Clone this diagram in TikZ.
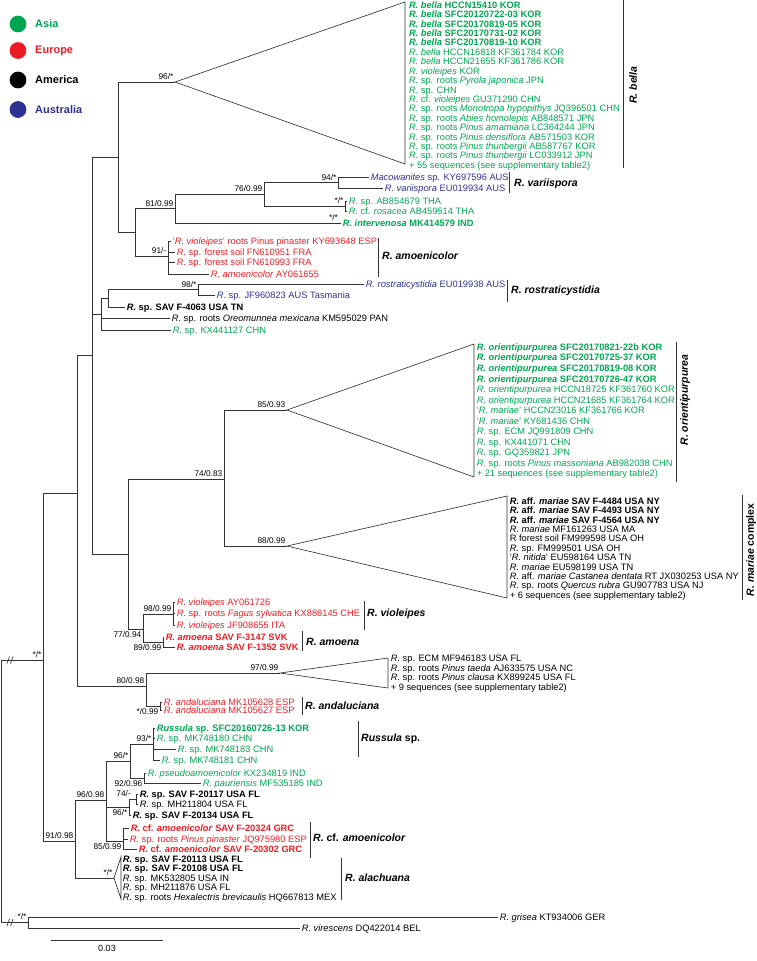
\documentclass[tikz,border=0pt]{standalone}
\usepackage{fontspec}
\setmainfont{Liberation Sans}
\definecolor{asia}{RGB}{0,166,81}
\definecolor{eur}{RGB}{237,28,36}
\definecolor{aus}{RGB}{46,49,146}
\newcommand{\genR}{\textit{R.}}
\begin{document}
\begin{tikzpicture}[x=1pt,y=-1pt,
  br/.style={line width=0.65pt, draw=black!80},
  lf/.style={anchor=west, inner sep=0pt, outer sep=1.8pt, font=\fontsize{9.3}{9.3}\selectfont, text height=6.7pt, text depth=0pt},
  supv/.style={anchor=base east, inner sep=0pt, font=\fontsize{8.3}{8.3}\selectfont},
  clab/.style={inner sep=0pt, font=\fontsize{10.5}{10.5}\selectfont\bfseries, text height=7.6pt, text depth=0pt},
  cbar/.style={line width=0.75pt, draw=black!80},
  leg/.style={anchor=west, inner sep=0pt, font=\fontsize{11}{11}\selectfont\bfseries},
  dot/.style={circle, inner sep=0pt, minimum size=16.8pt},
]
\useasboundingbox (0,0) rectangle (756,961);

% ---------- legend ----------
\foreach \c/\t/\y [count=\i] in {asia/Asia/24, eur/Europe/50.5, black/America/80, aus/Australia/109.5} {
  \node[dot, fill=\c] (dot\i) at (18,\y) {};
  \node[leg, text=\c] (leg\i) at (35,\y) {\t};
}

% ---------- internal nodes ----------
\coordinate (root) at (1,791);
\coordinate (n43) at (43,660);
\coordinate (n77) at (77,493);
\coordinate (n92) at (92,355);
\coordinate (nA) at (118,157);
\coordinate (n135) at (135,232);
\coordinate (n81) at (175,208.5);
\coordinate (n76) at (264,194);
\coordinate (n94) at (338,182.5);
\coordinate (nTHA) at (345,206);
\coordinate (n91) at (168,256);
\coordinate (n101) at (101,314);
\coordinate (n108) at (108,298);
\coordinate (n198) at (198,289.5);
\coordinate (n128) at (128,554);
\coordinate (n224) at (224,479);
\coordinate (n143) at (143,629);
\coordinate (n173) at (173,614);
\coordinate (n163) at (163,642);
\coordinate (n146) at (146,686);
\coordinate (n160) at (160,706);
\coordinate (n75) at (75,841);
\coordinate (n106) at (106,800);
\coordinate (n130) at (130,761);
\coordinate (n153) at (153,744);
\coordinate (n144) at (144,778);
\coordinate (n129) at (129,807);
\coordinate (n136) at (136,799);
\coordinate (n123) at (123,841);
\coordinate (nout) at (28,922.5);

% ---------- collapsed clades ----------
\coordinate (bellaApex) at (175,82);
\coordinate (bellaT) at (405,2);
\coordinate (bellaB) at (405,164);
\coordinate (orApex) at (287,410);
\coordinate (orT) at (474,344);
\coordinate (orB) at (474,477);
\coordinate (maApex) at (287,546);
\coordinate (maT) at (507,496);
\coordinate (maB) at (507,598);
\coordinate (cApex) at (280,673);
\coordinate (cT) at (388,658);
\coordinate (cB) at (388,688);
\coordinate (alApex) at (114,878);
\coordinate (alT) at (121,857);
\coordinate (alB) at (121,899);
\draw[br] (bellaApex) -- (bellaT) -- (bellaB) -- cycle;
\draw[br] (orApex) -- (orT) -- (orB) -- cycle;
\draw[br] (maApex) -- (maT) -- (maB) -- cycle;
\draw[br] (cApex) -- (cT) -- (cB) -- cycle;
\draw[br] (alApex) -- (alT) -- (alB) -- cycle;

\foreach \t [count=\i from 0] in {
 \textbf{\textit{R. bella} HCCN15410 KOR},
 \textbf{\textit{R. bella} SFC20120722-03 KOR},
 \textbf{\textit{R. bella} SFC20170819-05 KOR},
 \textbf{\textit{R. bella} SFC20170731-02 KOR},
 \textbf{\textit{R. bella} SFC20170819-10 KOR},
 \textit{R. bella} HCCN16818 KF361784 KOR,
 \textit{R. bella} HCCN21655 KF361786 KOR,
 \textit{R. violeipes} KOR,
 \genR{} sp. roots \textit{Pyrola japonica} JPN,
 \genR{} sp. CHN,
 \genR{} cf. \textit{violeipes} GU371290 CHN,
 \genR{} sp. roots \textit{Monotropa hypopithys} JQ396501 CHN,
 \genR{} sp. roots \textit{Abies homolepis} AB848571 JPN,
 \genR{} sp. roots \textit{Pinus amamiana} LC364244 JPN,
 \genR{} sp. roots \textit{Pinus densiflora} AB571503 KOR,
 \genR{} sp. roots \textit{Pinus thunbergii} AB587767 KOR,
 \genR{} sp. roots \textit{Pinus thunbergii} LC033912 JPN,
 + 55 sequences (see supplementary table2)}
 \node[lf, text=asia] (bella\i) at (407.2,5+9.41*\i) {\t};

\foreach \t [count=\i from 0] in {
 \textbf{\textit{R. orientipurpurea} SFC20170821-22b KOR},
 \textbf{\textit{R. orientipurpurea} SFC20170725-37 KOR},
 \textbf{\textit{R. orientipurpurea} SFC20170819-08 KOR},
 \textbf{\textit{R. orientipurpurea} SFC20170726-47 KOR},
 \textit{R. orientipurpurea} HCCN18725 KF361760 KOR,
 \textit{R. orientipurpurea} HCCN21685 KF361764 KOR,
 `\textit{R. mariae}' HCCN23016 KF361766 KOR,
 `\textit{R. mariae}' KY681436 CHN,
 \genR{} sp. ECM JQ991809 CHN,
 \genR{} sp. KX441071 CHN,
 \genR{} sp. GQ359821 JPN,
 \genR{} sp. roots \textit{Pinus massoniana} AB982038 CHN,
 + 21 sequences (see supplementary table2)}
 \node[lf, text=asia] (orient\i) at (475,347+10.55*\i) {\t};

\foreach \t [count=\i from 0] in {
 \textbf{\genR{} aff. \textit{mariae} SAV F-4484 USA NY},
 \textbf{\genR{} aff. \textit{mariae} SAV F-4493 USA NY},
 \textbf{\genR{} aff. \textit{mariae} SAV F-4564 USA NY},
 \textit{R. mariae} MF161263 USA MA,
 R forest soil FM999598 USA OH,
 \genR{} sp. FM999501 USA OH,
 `\textit{R. nitida}' EU598164 USA TN,
 \textit{R. mariae} EU598199 USA TN,
 \genR{} aff. \textit{mariae Castanea dentata} RT JX030253 USA NY,
 \genR{} sp. roots \textit{Quercus rubra} GU907783 USA NJ,
 + 6 sequences (see supplementary table2)}
 \node[lf] (mariae\i) at (508,501+9.4*\i) {\t};

\foreach \t [count=\i from 0] in {
 \genR{} sp. ECM MF946183 USA FL,
 \genR{} sp. roots \textit{Pinus taeda} AJ633575 USA NC,
 \genR{} sp. roots \textit{Pinus clausa} KX899245 USA FL,
 + 9 sequences (see supplementary table2)}
 \node[lf] (cl97\i) at (389,658.5+9.5*\i) {\t};

\foreach \t [count=\i from 0] in {
 \textbf{\genR{} sp. SAV F-20113 USA FL},
 \textbf{\genR{} sp. SAV F-20108 USA FL},
 \genR{} sp. MK532805 USA IN,
 \genR{} sp. MH211876 USA FL,
 \genR{} sp. roots \textit{Hexalectris brevicaulis} HQ667813 MEX}
 \node[lf] (alach\i) at (121,859+9.5*\i) {\t};

% ---------- single leaves ----------
\node[lf, text=aus] (tMaco) at (369,177) {\textit{Macowanites} sp. KY697596 AUS};
\node[lf, text=aus] (tVari) at (383,188) {\textit{R. variispora} EU019934 AUS};
\node[lf, text=asia] (tTHA) at (347,201) {\genR{} sp. AB854679 THA};
\node[lf, text=asia] (tRos) at (347,211.5) {\genR{} cf. \textit{rosacea} AB459514 THA};
\node[lf, text=asia] (tInt) at (341,223) {\textbf{\textit{R. intervenosa} MK414579 IND}};
\node[lf, text=eur] (tESP) at (171,241) {`\textit{R. violeipes}' roots Pinus pinaster KY693648 ESP};
\node[lf, text=eur] (tFN1) at (175,252) {\genR{} sp. forest soil FN610951 FRA};
\node[lf, text=eur] (tFN2) at (175,262) {\genR{} sp. forest soil FN610993 FRA};
\node[lf, text=eur] (tAY) at (209,274) {\textit{R. amoenicolor} AY061655};
\node[lf, text=aus] (tRost) at (364,284) {\textit{R. rostraticystidia} EU019938 AUS};
\node[lf, text=aus] (tJF) at (215,295) {\genR{} sp. JF960823 AUS Tasmania};
\node[lf] (t4063) at (125,307) {\textbf{\genR{} sp. SAV F-4063 USA TN}};
\node[lf] (tOreo) at (170,318) {\genR{} sp. roots \textit{Oreomunnea mexicana} KM595029 PAN};
\node[lf, text=asia] (tKX) at (171,330) {\genR{} sp. KX441127 CHN};
\node[lf, text=eur] (tV1) at (175,602) {\textit{R. violeipes} AY061726};
\node[lf, text=eur] (tV2) at (175,613) {\genR{} sp. roots \textit{Fagus sylvatica} KX886145 CHE};
\node[lf, text=eur] (tV3) at (175,625) {\textit{R. violeipes} JF908655 ITA};
\node[lf, text=eur] (tA1) at (164,637) {\textbf{\textit{R. amoena} SAV F-3147 SVK}};
\node[lf, text=eur] (tA2) at (175,647) {\textbf{\textit{R. amoena} SAV F-1352 SVK}};
\node[lf, text=eur] (tAn1) at (162,702) {\textit{R. andaluciana} MK105628 ESP};
\node[lf, text=eur] (tAn2) at (162,710.5) {\textit{R. andaluciana} MK105627 ESP};
\node[lf, text=asia] (tRu1) at (155,728) {\textbf{\textit{Russula} sp. SFC20160726-13 KOR}};
\node[lf, text=asia] (tRu2) at (155,738) {\genR{} sp. MK748180 CHN};
\node[lf, text=asia] (tRu3) at (176,749) {\genR{} sp. MK748183 CHN};
\node[lf, text=asia] (tRu4) at (160,760) {\genR{} sp. MK748181 CHN};
\node[lf, text=asia] (tPs) at (146,773) {\textit{R. pseudoamoenicolor} KX234819 IND};
\node[lf, text=asia] (tPa) at (201,783) {\textit{R. pauriensis} MF535185 IND};
\node[lf] (t20117) at (138,794) {\textbf{\genR{} sp. SAV F-20117 USA FL}};
\node[lf] (tMH) at (138,804) {\genR{} sp. MH211804 USA FL};
\node[lf] (t20134) at (131,815) {\textbf{\genR{} sp. SAV F-20134 USA FL}};
\node[lf, text=eur] (t20324) at (129,828) {\textbf{\genR{} cf. \textit{amoenicolor} SAV F-20324 GRC}};
\node[lf, text=eur] (tPin) at (128,839) {\genR{} sp. roots \textit{Pinus pinaster} JQ975980 ESP};
\node[lf, text=eur] (t20302) at (137,849) {\textbf{\genR{} cf. \textit{amoenicolor} SAV F-20302 GRC}};
\node[lf] (tGri) at (498,917) {\textit{R. grisea} KT934006 GER};
\node[lf] (tVir) at (300,928) {\textit{R. virescens} DQ422014 BEL};

% ---------- branches ----------
\draw[br] (root) |- (n43);
\draw[br] (root) |- (nout);
\draw[br] (n43) |- (n77);
\draw[br] (n43) |- (n75);
\draw[br] (n77) |- (n92);
\draw[br] (n77) |- (n146);
\draw[br] (n92) |- (nA);
\draw[br] (n92) |- (n101);
\draw[br] (n92) |- (n128);
\draw[br] (nA) |- (bellaApex);
\draw[br] (nA) |- (n135);
\draw[br] (n135) |- (n81);
\draw[br] (n135) |- (n91);
\draw[br] (n81) |- (n76);
\draw[br] (n81) |- (tInt.west);
\draw[br] (n76) |- (n94);
\draw[br] (n76) |- (nTHA);
\draw[br] (n94) |- (tMaco.west);
\draw[br] (n94) |- (tVari.west);
\draw[br] (nTHA) |- (tTHA.west);
\draw[br] (nTHA) |- (tRos.west);
\draw[br] (n91) |- (tESP.west);
\draw[br] (n91) |- (tFN1.west);
\draw[br] (n91) |- (tFN2.west);
\draw[br] (n91) |- (tAY.west);
\draw[br] (n101) |- (n108);
\draw[br] (n101) |- (tOreo.west);
\draw[br] (n101) |- (tKX.west);
\draw[br] (n108) |- (n198);
\draw[br] (n108) |- (t4063.west);
\draw[br] (n198) |- (tRost.west);
\draw[br] (n198) |- (tJF.west);
\draw[br] (n128) |- (n224);
\draw[br] (n128) |- (n143);
\draw[br] (n224) |- (orApex);
\draw[br] (n224) |- (maApex);
\draw[br] (n143) |- (n173);
\draw[br] (n143) |- (n163);
\draw[br] (n173) |- (tV1.west);
\draw[br] (n173) |- (tV2.west);
\draw[br] (n173) |- (tV3.west);
\draw[br] (n163) |- (tA1.west);
\draw[br] (n163) |- (tA2.west);
\draw[br] (n146) |- (cApex);
\draw[br] (n146) |- (n160);
\draw[br] (n160) |- (tAn1.west);
\draw[br] (n160) |- (tAn2.west);
\draw[br] (n75) |- (n106);
\draw[br] (n75) |- (alApex);
\draw[br] (n106) |- (n130);
\draw[br] (n106) |- (n129);
\draw[br] (n106) |- (n123);
\draw[br] (n130) |- (n153);
\draw[br] (n130) |- (n144);
\draw[br] (n153) |- (tRu1.west);
\draw[br] (n153) |- (tRu2.west);
\draw[br] (n153) |- (tRu3.west);
\draw[br] (n153) |- (tRu4.west);
\draw[br] (n144) |- (tPs.west);
\draw[br] (n144) |- (tPa.west);
\draw[br] (n129) |- (n136);
\draw[br] (n129) |- (t20134.west);
\draw[br] (n136) |- (t20117.west);
\draw[br] (n136) |- (tMH.west);
\draw[br] (n123) |- (t20324.west);
\draw[br] (n123) |- (tPin.west);
\draw[br] (n123) |- (t20302.west);
\draw[br] (nout) |- (tGri.west);
\draw[br] (nout) |- (tVir.west);

% break marks
\draw[br] (7,663.5) -- (9.5,656.5) (10.5,663.5) -- (13,656.5);
\draw[br] (7,926) -- (9.5,919) (10.5,926) -- (13,919);

% ---------- support values ----------
\node[supv] (s1) at (173.5,79.5) {96/*};
\node[supv] (s2) at (173.5,206) {81/0.99};
\node[supv] (s3) at (262.5,191.5) {76/0.99};
\node[supv] (s4) at (336.5,180) {94/*};
\node[supv] (s5) at (343.5,203.5) {*/*};
\node[supv] (s6) at (338,220.5) {*/*};
\node[supv] (s7) at (166.5,253.5) {91/-};
\node[supv] (s8) at (196.5,287) {98/*};
\node[supv] (s9) at (285.5,407.5) {85/0.93};
\node[supv] (s10) at (222.5,476.5) {74/0.83};
\node[supv] (s11) at (285.5,543.5) {88/0.99};
\node[supv] (s12) at (171.5,611.5) {98/0.99};
\node[supv] (s13) at (141.5,637.5) {77/0.94};
\node[supv] (s14) at (161.5,650.5) {89/0.99};
\node[supv] (s15) at (144.5,683.5) {80/0.98};
\node[supv] (s16) at (278.5,670.5) {97/0.99};
\node[supv] (s17) at (158.5,714.5) {*/0.99};
\node[supv] (s18) at (151.5,741.5) {93/*};
\node[supv] (s19) at (128.5,758.5) {96/*};
\node[supv] (s20) at (142.5,786.5) {92/0.96};
\node[supv] (s21) at (104.5,797.5) {96/0.98};
\node[supv] (s22) at (131,796.5) {74/-};
\node[supv] (s23) at (127.5,815.5) {96/*};
\node[supv] (s24) at (121.5,849.5) {85/0.99};
\node[supv] (s25) at (73.5,838.5) {91/0.98};
\node[supv] (s26) at (112.5,875.5) {*/*};
\node[supv] (s27) at (41.5,657.5) {*/*};
\node[supv] (s28) at (26.5,919.5) {*/*};

% ---------- clade bars and names ----------
\draw[cbar] (623,0) coordinate (bbT) -- (623,168) coordinate (bbB);
\node[clab, rotate=90] (cBella) at (633,85) {\textit{R. bella}};
\draw[cbar] (509,172) coordinate (vbT) -- (509,193) coordinate (vbB);
\node[clab, anchor=west] (cVari) at (514,183) {\textit{R. variispora}};
\draw[cbar] (378,238) coordinate (abT) -- (378,277) coordinate (abB);
\node[clab, anchor=west] (cAmoe) at (382,256) {\textit{R. amoenicolor}};
\draw[cbar] (507,280) coordinate (rbT) -- (507,302) coordinate (rbB);
\node[clab, anchor=west] (cRost) at (511,290) {\textit{R. rostraticystidia}};
\draw[cbar] (676,342) coordinate (obT) -- (676,482) coordinate (obB);
\node[clab, rotate=90] (cOrient) at (684,400) {\textit{R. orientipurpurea}};
\draw[cbar] (742,495) coordinate (mbT) -- (742,600) coordinate (mbB);
\node[clab, rotate=90] (cMariae) at (750,550) {\textit{R. mariae} complex};
\draw[cbar] (364,601) coordinate (vlT) -- (364,630) coordinate (vlB);
\node[clab, anchor=west] (cViol) at (367,613) {\textit{R. violeipes}};
\draw[cbar] (302,631) coordinate (amT) -- (302,651) coordinate (amB);
\node[clab, anchor=west] (cAmoena) at (306,642) {\textit{R. amoena}};
\draw[cbar] (302,697) coordinate (anT) -- (302,715) coordinate (anB);
\node[clab, anchor=west] (cAnda) at (305,706) {\textit{R. andaluciana}};
\draw[cbar] (358,721) coordinate (ruT) -- (358,757) coordinate (ruB);
\node[clab, anchor=west] (cRuss) at (361,738) {\textit{Russula} sp.};
\draw[cbar] (310,822) coordinate (cfT) -- (310,858) coordinate (cfB);
\node[clab, anchor=west] (cCf) at (313,838) {\textit{R.} cf. \textit{amoenicolor}};
\draw[cbar] (341,858) coordinate (alaT) -- (341,900) coordinate (alaB);
\node[clab, anchor=west] (cAla) at (345,878) {\textit{R. alachuana}};

% ---------- scale bar ----------
\coordinate (sbL) at (51,940);
\coordinate (sbR) at (163,940);
\draw[br] (sbL) -- (sbR);
\node[anchor=north, inner sep=0pt, font=\fontsize{9}{9}\selectfont] (sbT) at (107,945) {0.03};
\end{tikzpicture}
\end{document}
